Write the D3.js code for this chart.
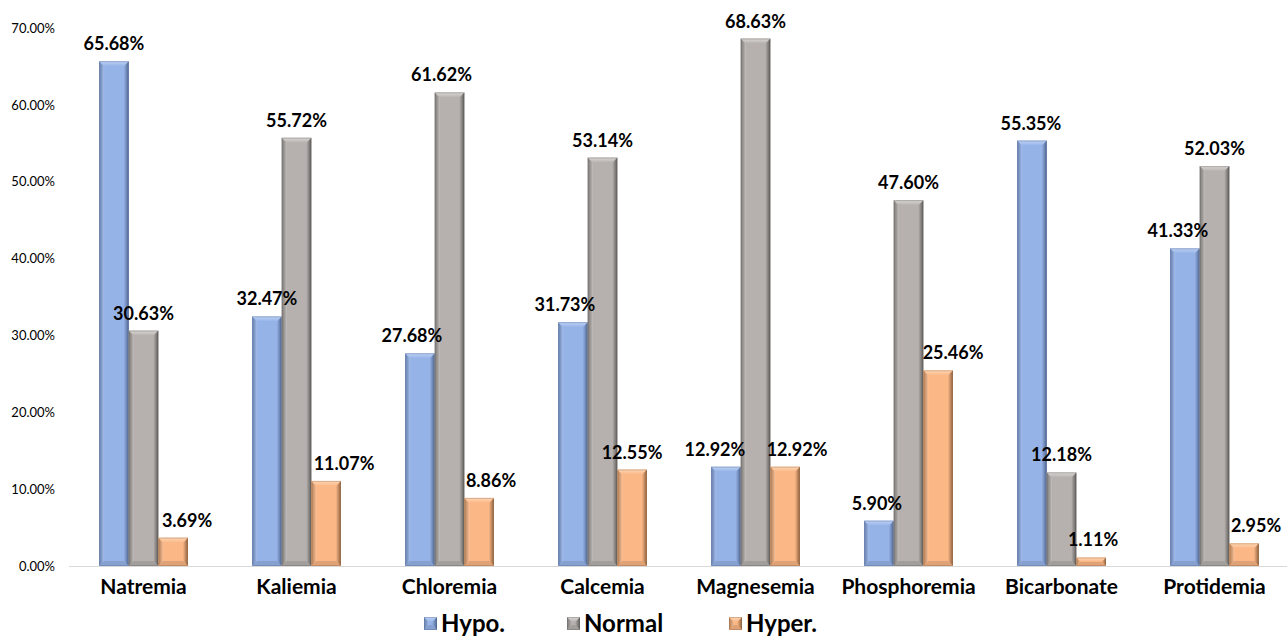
<!DOCTYPE html>
<html>
<head>
<meta charset="utf-8">
<script src="https://cdn.jsdelivr.net/npm/d3@7"></script>
<style>
  html, body { margin: 0; padding: 0; background: #fff; }
  svg { display: block; font-family: Lato, "Open Sans", "Liberation Sans", sans-serif; }
</style>
</head>
<body>
<svg id="chart" width="1287" height="637"></svg>
<script>
// Electrolyte status distribution (percent of patients)
const categories = ["Natremia", "Kaliemia", "Chloremia", "Calcemia", "Magnesemia", "Phosphoremia", "Bicarbonate", "Protidemia"];
const seriesNames = ["Hypo.", "Normal", "Hyper."];
const hypo   = [65.68, 32.47, 27.68, 31.73, 12.92,  5.90, 55.35, 41.33];
const normal = [30.63, 55.72, 61.62, 53.14, 68.63, 47.60, 12.18, 52.03];
const hyper  = [ 3.69, 11.07,  8.86, 12.55, 12.92, 25.46,  1.11,  2.95];
const yTicks = [0, 10, 20, 30, 40, 50, 60, 70];

// horizontal nudges (px) for value labels that would otherwise collide
const labelNudge = [
  [0, 0, 14], [0, 0, 18], [-8, -8, 12], [-8, 0, 0],
  [-11, 0, 12], [-2, 0, 15], [-1, 0, 2], [-7, 0, 12]
];

const palette = [
  { base: "#96b3e8", top: "#bfd2f4", left: "#a9c2ef", dark: "#4f6690", bottom: "#86a0cf" },
  { base: "#b6b1af", top: "#dcd9d7", left: "#c3bfbd", dark: "#5f5c5a", bottom: "#a29e9c" },
  { base: "#fbb786", top: "#fed8b8", left: "#fcc49c", dark: "#8f623f", bottom: "#dfa277" }
];

const svg = d3.select("#chart");
const W = 1287, H = 637;
const margin = { left: 67, right: -4, top: 28, bottom: 71 };

const x0 = d3.scaleBand().domain(categories).range([margin.left, W - margin.right]).paddingInner(0.42).paddingOuter(0.21);
const x1 = d3.scaleBand().domain(seriesNames).range([0, x0.bandwidth()]).padding(0);
const y = d3.scaleLinear().domain([0, 70]).range([H - margin.bottom, margin.top]);

const values = [hypo, normal, hyper];

// gradients for the bevelled edges
const defs = svg.append("defs");
palette.forEach((p, i) => {
  const gr = defs.append("linearGradient").attr("id", "rgt" + i).attr("x1", 0).attr("x2", 1).attr("y1", 0).attr("y2", 0);
  gr.append("stop").attr("offset", "0%").attr("stop-color", p.base);
  gr.append("stop").attr("offset", "100%").attr("stop-color", p.dark);
  const gl = defs.append("linearGradient").attr("id", "lft" + i).attr("x1", 0).attr("x2", 1).attr("y1", 0).attr("y2", 0);
  gl.append("stop").attr("offset", "0%").attr("stop-color", p.dark).attr("stop-opacity", 0.55);
  gl.append("stop").attr("offset", "100%").attr("stop-color", p.left);
  const gt = defs.append("linearGradient").attr("id", "top" + i).attr("x1", 0).attr("x2", 0).attr("y1", 0).attr("y2", 1);
  gt.append("stop").attr("offset", "0%").attr("stop-color", p.top);
  gt.append("stop").attr("offset", "100%").attr("stop-color", p.base);
});

// y axis tick labels
const yAxis = d3.axisLeft(y).tickValues(yTicks).tickFormat(d => d.toFixed(2) + "%").tickSize(0).tickPadding(0);
const yg = svg.append("g").attr("transform", `translate(55,0)`).call(yAxis);
yg.select(".domain").remove();
yg.selectAll("text").attr("font-size", 13).attr("fill", "#000")
  .attr("font-family", "Lato, 'Open Sans', sans-serif");

// baseline
svg.append("line")
  .attr("x1", 69).attr("x2", W)
  .attr("y1", y(0) + 0.5).attr("y2", y(0) + 0.5)
  .attr("stroke", "#d9d9d9").attr("stroke-width", 1.2);

// x axis category labels
const xAxis = d3.axisBottom(x0).tickSize(0).tickPadding(13);
const xg = svg.append("g").attr("transform", `translate(0,${y(0)})`).call(xAxis);
xg.select(".domain").remove();
xg.selectAll("text").attr("font-size", 21).attr("font-weight", "bold").attr("fill", "#000")
  .attr("font-family", "Lato, 'Open Sans', sans-serif");

// bevelled bar drawing
function drawBar(g, bx, by, bw, bh, si) {
  const p = palette[si];
  const e = Math.min(5, bh / 2);
  g.append("rect").attr("x", bx).attr("y", by).attr("width", bw).attr("height", bh).attr("fill", p.base);
  // left face
  g.append("path").attr("d", `M${bx},${by} L${bx + e},${by + e} L${bx + e},${by + bh - e} L${bx},${by + bh} Z`)
    .attr("fill", `url(#lft${si})`);
  // right face
  g.append("path").attr("d", `M${bx + bw},${by} L${bx + bw - e},${by + e} L${bx + bw - e},${by + bh - e} L${bx + bw},${by + bh} Z`)
    .attr("fill", `url(#rgt${si})`);
  // bottom face
  g.append("path").attr("d", `M${bx},${by + bh} L${bx + e},${by + bh - e} L${bx + bw - e},${by + bh - e} L${bx + bw},${by + bh} Z`)
    .attr("fill", p.bottom);
  // top face
  g.append("path").attr("d", `M${bx},${by} L${bx + bw},${by} L${bx + bw - e},${by + e} L${bx + e},${by + e} Z`)
    .attr("fill", `url(#top${si})`);
  // edge outline
  g.append("rect").attr("x", bx + 0.5).attr("y", by + 0.5).attr("width", Math.max(0, bw - 1)).attr("height", Math.max(0, bh - 1))
    .attr("fill", "none").attr("stroke", p.dark).attr("stroke-opacity", 0.35);
}

const barsG = svg.append("g");
const labelsG = svg.append("g");
categories.forEach((c, ci) => {
  seriesNames.forEach((s, si) => {
    const v = values[si][ci];
    const bx = x0(c) + x1(s);
    const bw = x1.bandwidth();
    const by = y(v);
    const bh = y(0) - y(v);
    drawBar(barsG, bx, by, bw, bh, si);
    labelsG.append("text")
      .attr("x", bx + bw / 2 + labelNudge[ci][si])
      .attr("y", by - 11)
      .attr("text-anchor", "middle")
      .attr("font-size", 18).attr("font-weight", "bold").attr("fill", "#000")
      .text(v.toFixed(2) + "%");
  });
});

// legend
const legendX = [424, 567, 729];
const legendG = svg.append("g");
seriesNames.forEach((s, si) => {
  const g = legendG.append("g");
  drawBar(g, legendX[si], 617, 13, 13, si);
  g.append("text").attr("x", legendX[si] + 17).attr("y", 632)
    .attr("font-size", 24).attr("font-weight", "bold").attr("fill", "#000").text(s);
});
</script>
</body>
</html>
